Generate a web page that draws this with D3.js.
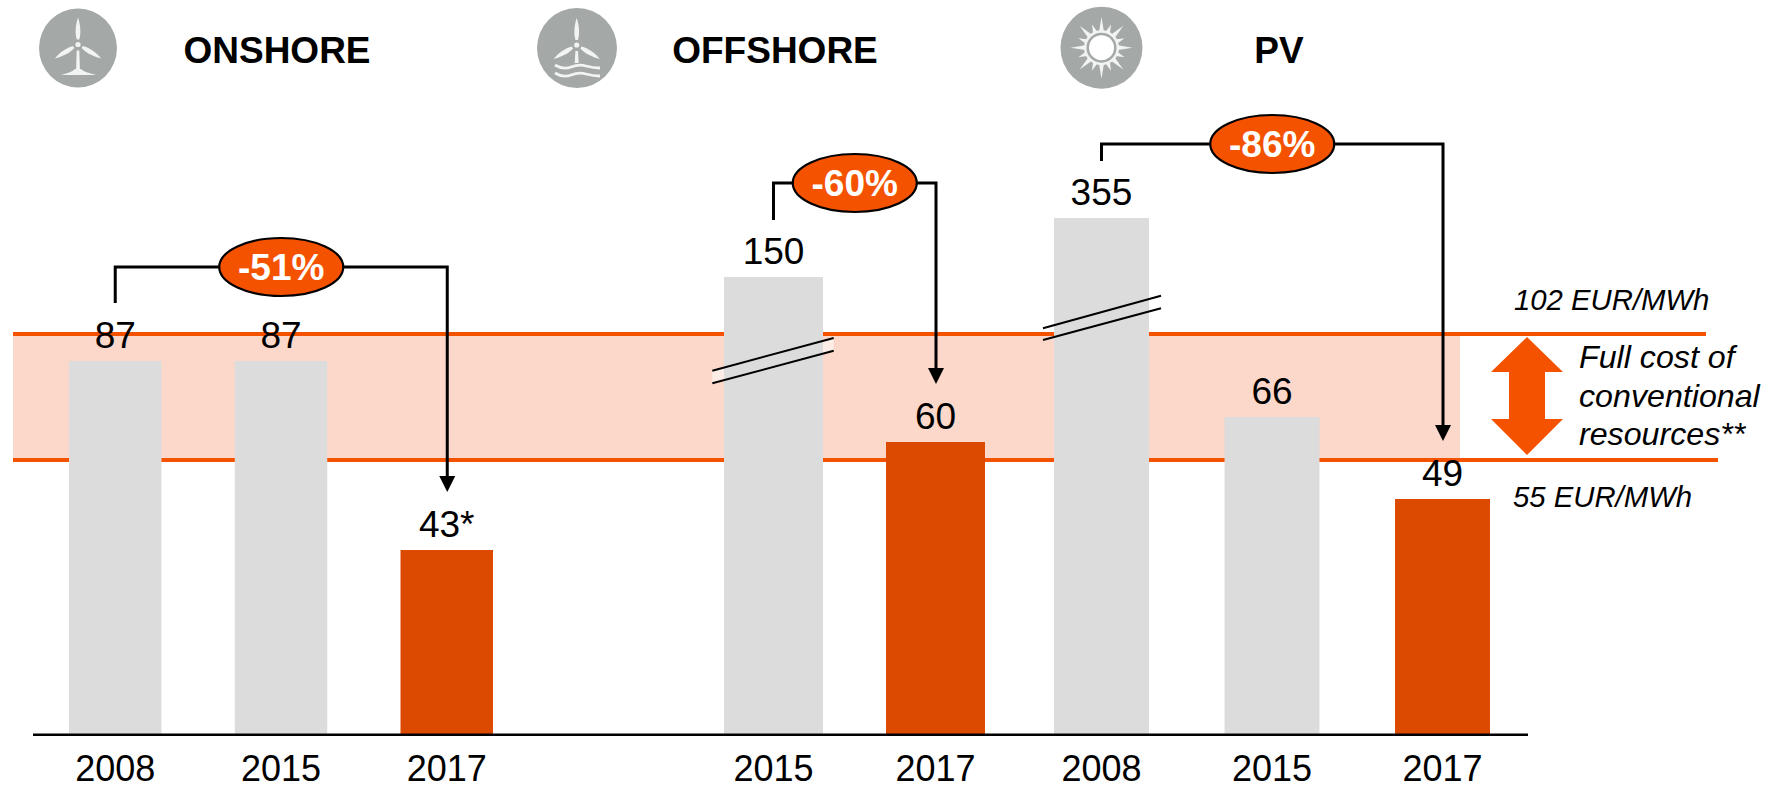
<!DOCTYPE html>
<html><head><meta charset="utf-8">
<script src="https://cdn.jsdelivr.net/npm/d3@7"></script>
<style>
html,body{margin:0;padding:0;background:#fff;overflow:hidden}
svg{display:block}
text{font-family:"Liberation Sans",Arial,sans-serif}
</style></head><body>
<script>
// ---- data ----
const panelTitles = ["ONSHORE", "OFFSHORE", "PV"];
const onshoreYears = ["2008", "2015", "2017"];
const onshoreValues = [87, 87, 43];
const onshoreLabels = ["87", "87", "43*"];
const offshoreYears = ["2015", "2017"];
const offshoreValues = [150, 60];
const offshoreLabels = ["150", "60"];
const pvYears = ["2008", "2015", "2017"];
const pvValues = [355, 66, 49];
const pvLabels = ["355", "66", "49"];
const reductions = ["-51%", "-60%", "-86%"];
const conventionalBand = [55, 102];
const bandLabels = ["55 EUR/MWh", "102 EUR/MWh"];
const bandNote = ["Full cost of", "conventional", "resources**"];

// ---- layout ----
const W = 1775, H = 789, base = 734;
const svg = d3.select("body").append("svg").attr("width", W).attr("height", H).attr("viewBox", `0 0 ${W} ${H}`);
const ORANGE = "#f55200", BAR_ORANGE = "#dc4900", GREY = "#dcdcdc", BAND = "#fbd8c9", ICON = "#a4a8a7";

// The original is not drawn to one scale (axis is broken), so each panel has its own piecewise scale.
const panels = [
  {years: onshoreYears, values: onshoreValues, labels: onshoreLabels, title: panelTitles[0], pct: reductions[0],
   x: d3.scaleBand().domain(onshoreYears).range([69, 493]).paddingInner(0.442).paddingOuter(0),
   y: d3.scaleLinear().domain([0, 43, 87]).range([base, 550, 361]),
   titleX: 277, bracketY: 267, startEnd: 303, arrowTip: 492, textDy: 12.5},
  {years: offshoreYears, values: offshoreValues, labels: offshoreLabels, title: panelTitles[1], pct: reductions[1],
   x: d3.scaleBand().domain(offshoreYears).range([724, 985]).paddingInner(0.389).paddingOuter(0),
   y: d3.scaleLinear().domain([0, 60, 150]).range([base, 442, 277]),
   titleX: 775, bracketY: 183, startEnd: 220, arrowTip: 384, textDy: 12.5},
  {years: pvYears, values: pvValues, labels: pvLabels, title: panelTitles[2], pct: reductions[2],
   x: d3.scaleBand().domain(pvYears).range([1054, 1490]).paddingInner(0.443).paddingOuter(0),
   y: d3.scaleLinear().domain([0, 49, 66, 355]).range([base, 499, 417, 218]),
   titleX: 1279, bracketY: 144, startEnd: 161, arrowTip: 441, textDy: 12.5}
];

// ---- conventional cost band ----
const bandY = d3.scaleLinear().domain(conventionalBand).range([460, 334]);
svg.append("rect").attr("x", 13).attr("width", 1447)
  .attr("y", bandY(conventionalBand[1])).attr("height", bandY(conventionalBand[0]) - bandY(conventionalBand[1]))
  .attr("fill", BAND);
svg.append("path").attr("d", "M712.3,370.7L833.7,338V350.7L712.3,383.3Z").attr("fill", "#fff").attr("opacity", 0.55);
svg.append("line").attr("x1", 13).attr("x2", 1706).attr("y1", bandY(conventionalBand[1])).attr("y2", bandY(conventionalBand[1]))
  .attr("stroke", ORANGE).attr("stroke-width", 4);
svg.append("line").attr("x1", 13).attr("x2", 1718).attr("y1", bandY(conventionalBand[0])).attr("y2", bandY(conventionalBand[0]))
  .attr("stroke", ORANGE).attr("stroke-width", 4);

// ---- bars, labels, axes ----
panels.forEach(p => {
  const g = svg.append("g");
  const rows = p.years.map((yr, i) => ({yr, v: p.values[i], label: p.labels[i], last: i === p.years.length - 1}));
  g.selectAll("rect").data(rows).join("rect")
    .attr("x", d => p.x(d.yr)).attr("width", p.x.bandwidth())
    .attr("y", d => p.y(d.v)).attr("height", d => base - p.y(d.v))
    .attr("fill", d => d.last ? BAR_ORANGE : GREY);
  g.selectAll("text.val").data(rows).join("text").attr("class", "val")
    .attr("x", d => p.x(d.yr) + p.x.bandwidth() / 2)
    .attr("y", d => p.y(d.v) - 13)
    .attr("text-anchor", "middle").attr("font-size", 37).attr("fill", "#000")
    .text(d => d.label);
  const axis = svg.append("g").attr("transform", `translate(0,${base})`)
    .call(d3.axisBottom(p.x).tickSize(0));
  axis.select(".domain").remove();
  axis.selectAll("text").attr("y", 47).attr("dy", 0)
    .attr("font-size", 36).attr("fill", "#000")
    .style("font-family", '"Liberation Sans",Arial,sans-serif');
  svg.append("text").attr("x", p.titleX).attr("y", 63).attr("text-anchor", "middle")
    .attr("font-size", 37).attr("font-weight", "bold").text(p.title);
});
svg.append("line").attr("x1", 33).attr("x2", 1528).attr("y1", base + 0.8).attr("y2", base + 0.8)
  .attr("stroke", "#000").attr("stroke-width", 2.4);

// ---- axis-break marks ----
[["M712.3,370.7L833.7,338", "M712.3,383.3L833.7,350.7"], ["M1043,328.3L1161,295.7", "M1043,340L1161,308.3"]]
  .flat().forEach(d => svg.append("path").attr("d", d).attr("stroke", "#000").attr("stroke-width", 2).attr("fill", "none"));

// ---- reduction brackets ----
panels.forEach(p => {
  const first = p.years[0], last = p.years[p.years.length - 1];
  const x0 = p.x(first) + p.x.bandwidth() / 2, x1 = p.x(last) + p.x.bandwidth() / 2 + 0.5;
  const yB = p.bracketY, cx = (x0 + x1) / 2;
  svg.append("path").attr("fill", "none").attr("stroke", "#000").attr("stroke-width", 3)
    .attr("d", `M${x0},${p.startEnd}V${yB}H${x1}V${p.arrowTip - 14}`);
  svg.append("path").attr("fill", "#000")
    .attr("d", `M${x1 - 8},${p.arrowTip - 16}H${x1 + 8}L${x1},${p.arrowTip}Z`);
  svg.append("ellipse").attr("cx", cx).attr("cy", yB).attr("rx", 62).attr("ry", 29)
    .attr("fill", ORANGE).attr("stroke", "#000").attr("stroke-width", 2.2);
  svg.append("text").attr("x", cx).attr("y", yB + p.textDy).attr("text-anchor", "middle")
    .attr("font-size", 37).attr("font-weight", "bold").attr("fill", "#fff").text(p.pct);
});

// ---- right-hand annotation ----
svg.append("path").attr("fill", ORANGE)
  .attr("d", "M1527,337L1563,372H1545V419H1563L1527,455L1491,419H1509V372H1491Z");
svg.append("text").attr("x", 1514).attr("y", 310).attr("font-size", 29.3).attr("font-style", "italic").text(bandLabels[1]);
svg.append("text").attr("x", 1513).attr("y", 507).attr("font-size", 29.3).attr("font-style", "italic").text(bandLabels[0]);
const noteY = [368, 407, 445];
bandNote.forEach((t, i) => svg.append("text").attr("x", 1579).attr("y", noteY[i])
  .attr("font-size", 32.2).attr("font-style", "italic").text(t));

// ---- icons ----
const ICON_W = "#f2f3f3";
function turbine(g, cx, hubY, towerBottom) {
  const blade = "M-1.2,-5 C-3.4,-11 -2.2,-21 0,-27 C2.2,-21 3.4,-11 1.2,-5 Z";
  [0, 121, -121].forEach(a => g.append("path")
    .attr("transform", `translate(${cx},${hubY}) rotate(${a})`).attr("d", blade).attr("fill", ICON_W));
  g.append("circle").attr("cx", cx).attr("cy", hubY).attr("r", 2.6).attr("fill", ICON_W);
  g.append("path").attr("d", `M${cx - 1.3},${hubY + 6}L${cx - 2},${towerBottom}H${cx + 2}L${cx + 1.3},${hubY + 6}Z`).attr("fill", ICON_W);
}
const ic1 = svg.append("g");
ic1.append("ellipse").attr("cx", 78).attr("cy", 48).attr("rx", 39).attr("ry", 39.5).attr("fill", ICON);
turbine(ic1, 78, 44.5, 71);
ic1.append("path").attr("d", "M61,75 C67,73 72,72 75,69 H81 C84,72 90,73 96,75 Z").attr("fill", ICON_W);

const ic2 = svg.append("g");
ic2.append("ellipse").attr("cx", 577).attr("cy", 48).attr("rx", 40).attr("ry", 40).attr("fill", ICON);
turbine(ic2, 576.7, 45, 63);
[66, 74].forEach(y => ic2.append("path")
  .attr("d", `M555,${y - 1} q8,5 16,2 t15,-1 t14,2`)
  .attr("fill", "none").attr("stroke", ICON_W).attr("stroke-width", 2.8));

const ic3 = svg.append("g").attr("transform", "translate(1101.5,47.7)");
ic3.append("circle").attr("r", 41).attr("fill", ICON);
d3.range(16).forEach(i => {
  const r = i % 2 ? 25 : 31;
  ic3.append("path").attr("transform", `rotate(${i * 22.5})`)
    .attr("d", `M-2.6,-15 L0,${-r} L2.6,-15 Z`).attr("fill", ICON_W);
});
ic3.append("circle").attr("r", 17.5).attr("fill", ICON_W);
ic3.append("circle").attr("r", 15).attr("fill", ICON);
ic3.append("circle").attr("r", 12.5).attr("fill", "#fff");
</script>
</body></html>
